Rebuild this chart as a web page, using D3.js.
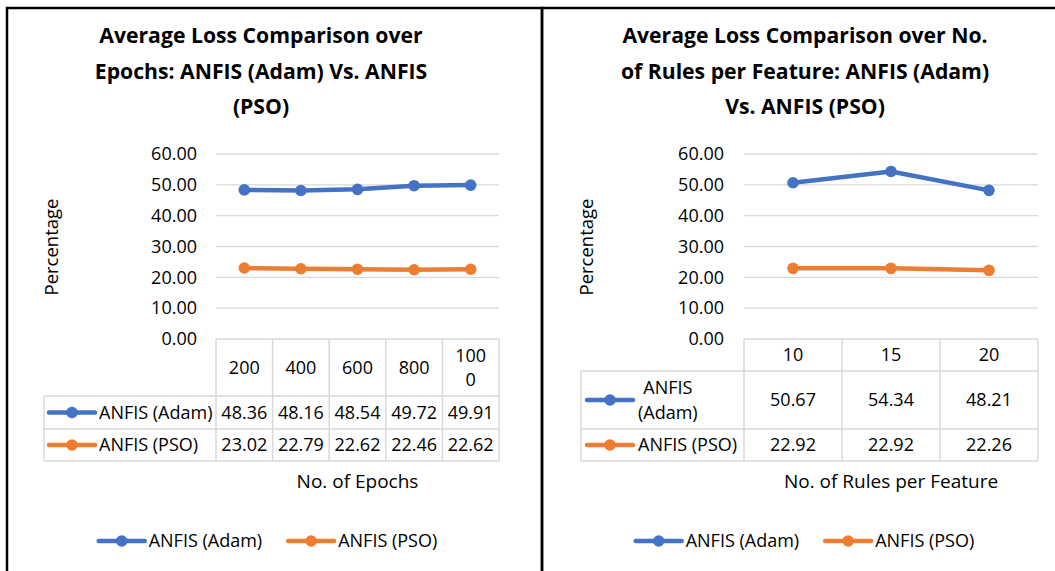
<!DOCTYPE html>
<html><head><meta charset="utf-8">
<script src="https://cdn.jsdelivr.net/npm/d3@7"></script>
<style>
body{margin:0;background:#fff}
svg{display:block}
text{font-family:"Open Sans",Lato,sans-serif;fill:#000}
</style>
</head><body>
<svg id="chart" width="1055" height="571"></svg>
<script>
// ---------------- data ----------------
const seriesNames = ["ANFIS (Adam)", "ANFIS (PSO)"];
const seriesColors = ["#4472C4", "#ED7D31"];
const epochCategories = ["200", "400", "600", "800", "1000"];
const epochAdam = [48.36, 48.16, 48.54, 49.72, 49.91];
const epochPSO = [23.02, 22.79, 22.62, 22.46, 22.62];
const ruleCategories = ["10", "15", "20"];
const ruleAdam = [50.67, 54.34, 48.21];
const rulePSO = [22.92, 22.92, 22.26];
const yTicks = [0, 10, 20, 30, 40, 50, 60];
const epochTitleLines = ["Average Loss Comparison over", "Epochs: ANFIS (Adam) Vs. ANFIS", "(PSO)"];
const ruleTitleLines = ["Average Loss Comparison over No.", "of Rules per Feature: ANFIS (Adam)", "Vs. ANFIS (PSO)"];
const yAxisTitle = "Percentage";
const epochXTitle = "No. of Epochs";
const ruleXTitle = "No. of Rules per Feature";

// ---------------- drawing ----------------
const svg = d3.select("#chart");
const FS = 18;
const TFS = 21.2;
const GRID = "#D9D9D9";

function textWidth(str, fontSize, weight) {
  const tmp = svg.append("text").style("font-size", fontSize + "px").style("font-weight", weight || "normal").text(str);
  const w = tmp.node().getComputedTextLength();
  tmp.remove();
  return w;
}
function wrapWords(str, maxW, fontSize) {
  const w = s => textWidth(s, fontSize);
  const words = str.split(" ");
  const lines = [];
  let cur = "";
  words.forEach(word => {
    const test = cur ? cur + " " + word : word;
    if (w(test) <= maxW || !cur) cur = test; else { lines.push(cur); cur = word; }
  });
  if (cur) lines.push(cur);
  const out = [];
  lines.forEach(l => {
    if (w(l) <= maxW) { out.push(l); return; }
    let c = "";
    for (const ch of l) { if (w(c + ch) <= maxW || !c) c += ch; else { out.push(c); c = ch; } }
    if (c) out.push(c);
  });
  return out;
}

function drawChart(cfg) {
  const g = svg.append("g");
  const series = [cfg.adam, cfg.pso];

  g.append("rect").attr("x", cfg.panelX0).attr("y", 8).attr("width", cfg.panelX1 - cfg.panelX0).attr("height", 600)
    .attr("fill", "none").attr("stroke", "#000").attr("stroke-width", 2.5);

  g.append("text").attr("text-anchor", "middle").style("font-size", TFS + "px").style("font-weight", "bold")
    .selectAll("tspan").data(cfg.titleLines).join("tspan")
    .attr("x", cfg.titleCx).attr("y", (d, i) => 43 + i * 35.5).text(d => d);

  const x = d3.scaleBand().domain(cfg.categories).range([cfg.plotX0, cfg.plotX1]);
  const y = d3.scaleLinear().domain([0, 60]).range([339, 154]);

  g.append("g").selectAll("line").data(yTicks.filter(t => t > 0)).join("line")
    .attr("x1", cfg.plotX0).attr("x2", cfg.plotX1).attr("y1", d => y(d)).attr("y2", d => y(d))
    .attr("stroke", GRID).attr("stroke-width", 1.3);

  const yAxis = d3.axisLeft(y).tickValues(yTicks).tickFormat(d3.format(".2f")).tickSize(0).tickPadding(0);
  const ya = g.append("g").attr("transform", `translate(${cfg.tickRight},0)`).call(yAxis);
  ya.select(".domain").remove();
  ya.attr("font-family", null).attr("font-size", null);
  ya.selectAll("text").style("font-size", FS + "px").attr("fill", "#000");

  g.append("text").attr("transform", `translate(${cfg.yLabelX},247) rotate(-90)`)
    .attr("text-anchor", "middle").attr("dominant-baseline", "central").style("font-size", (FS + 0.5) + "px").text(yAxisTitle);

  const line = d3.line().x((d, i) => x(cfg.categories[i]) + x.bandwidth() / 2).y(d => y(d));
  series.forEach((vals, si) => {
    g.append("path").datum(vals).attr("d", line).attr("fill", "none")
      .attr("stroke", seriesColors[si]).attr("stroke-width", 4.5).attr("stroke-linejoin", "round").attr("stroke-linecap", "round");
    g.append("g").selectAll("circle").data(vals).join("circle")
      .attr("cx", (d, i) => x(cfg.categories[i]) + x.bandwidth() / 2).attr("cy", d => y(d)).attr("r", 5.8)
      .attr("fill", seriesColors[si]);
  });

  const rows = [339, cfg.headerBottom, cfg.headerBottom + cfg.row1H, cfg.headerBottom + cfg.row1H + 32];
  const tg = g.append("g").attr("stroke", GRID).attr("stroke-width", 1.5);
  tg.append("line").attr("x1", cfg.plotX0).attr("x2", cfg.plotX1).attr("y1", rows[0]).attr("y2", rows[0]);
  rows.slice(1).forEach(r => tg.append("line").attr("x1", cfg.legColX0).attr("x2", cfg.plotX1).attr("y1", r).attr("y2", r));
  tg.append("line").attr("x1", cfg.legColX0).attr("x2", cfg.legColX0).attr("y1", rows[1]).attr("y2", rows[3]);
  const colEdges = cfg.categories.map(c => x(c)).concat([cfg.plotX1]);
  colEdges.forEach(cx => tg.append("line").attr("x1", cx).attr("x2", cx).attr("y1", rows[0]).attr("y2", rows[3]));

  cfg.categories.forEach(c => {
    const lines = wrapWords(c, cfg.headerWrap, FS);
    const cy = (rows[0] + rows[1]) / 2;
    g.append("text").attr("text-anchor", "middle").style("font-size", FS + "px")
      .selectAll("tspan").data(lines).join("tspan")
      .attr("x", x(c) + x.bandwidth() / 2)
      .attr("y", (d, i) => cy + (i - (lines.length - 1) / 2) * 24)
      .attr("dy", "0.35em").text(d => d);
  });

  series.forEach((vals, si) => {
    const cy = (rows[si + 1] + rows[si + 2]) / 2;
    g.append("line").attr("x1", cfg.symX0).attr("x2", cfg.symX0 + 46).attr("y1", cy).attr("y2", cy)
      .attr("stroke", seriesColors[si]).attr("stroke-width", 4.5).attr("stroke-linecap", "round");
    g.append("circle").attr("cx", cfg.symX0 + 23).attr("cy", cy).attr("r", 5.8).attr("fill", seriesColors[si]);
    const lines = wrapWords(seriesNames[si], cfg.rowWrap, FS);
    const maxW = d3.max(lines, l => textWidth(l, FS));
    g.append("text").attr("text-anchor", "middle").style("font-size", FS + "px")
      .selectAll("tspan").data(lines).join("tspan")
      .attr("x", cfg.rowTextX + maxW / 2)
      .attr("y", (d, i) => cy + (i - (lines.length - 1) / 2) * 25)
      .attr("dy", "0.35em").text(d => d);
    g.append("g").selectAll("text").data(vals).join("text")
      .attr("x", (d, i) => x(cfg.categories[i]) + x.bandwidth() / 2).attr("y", cy).attr("dy", "0.35em")
      .attr("text-anchor", "middle").style("font-size", FS + "px").text(d => d3.format(".2f")(d));
  });

  g.append("text").attr("x", (cfg.plotX0 + cfg.plotX1) / 2).attr("y", 481).attr("dy", "0.35em")
    .attr("text-anchor", "middle").style("font-size", (FS + 1) + "px").text(cfg.xTitle);

  const itemW = seriesNames.map(n => 46 + 4 + textWidth(n, FS));
  const gap = 26;
  const total = d3.sum(itemW) + gap;
  let lx = cfg.legendCx - total / 2;
  seriesNames.forEach((n, si) => {
    g.append("line").attr("x1", lx).attr("x2", lx + 46).attr("y1", 541).attr("y2", 541)
      .attr("stroke", seriesColors[si]).attr("stroke-width", 4.5).attr("stroke-linecap", "round");
    g.append("circle").attr("cx", lx + 23).attr("cy", 541).attr("r", 5.8).attr("fill", seriesColors[si]);
    g.append("text").attr("x", lx + 50).attr("y", 541).attr("dy", "0.35em").style("font-size", FS + "px").text(n);
    lx += itemW[si] + gap;
  });
}

drawChart({
  titleLines: epochTitleLines, titleCx: 261,
  panelX0: 7, panelX1: 542,
  categories: epochCategories, adam: epochAdam, pso: epochPSO,
  plotX0: 216, plotX1: 499, tickRight: 197, yLabelX: 50,
  legColX0: 44, symX0: 49, rowTextX: 99, rowWrap: 200, headerWrap: 36,
  headerBottom: 396, row1H: 33,
  xTitle: epochXTitle, legendCx: 268
});
drawChart({
  titleLines: ruleTitleLines, titleCx: 805,
  panelX0: 542, panelX1: 1100,
  categories: ruleCategories, adam: ruleAdam, pso: rulePSO,
  plotX0: 744, plotX1: 1038, tickRight: 724, yLabelX: 585,
  legColX0: 581, symX0: 587, rowTextX: 638, rowWrap: 104, headerWrap: 80,
  headerBottom: 371, row1H: 58,
  xTitle: ruleXTitle, legendCx: 805
});
</script>
</body></html>
